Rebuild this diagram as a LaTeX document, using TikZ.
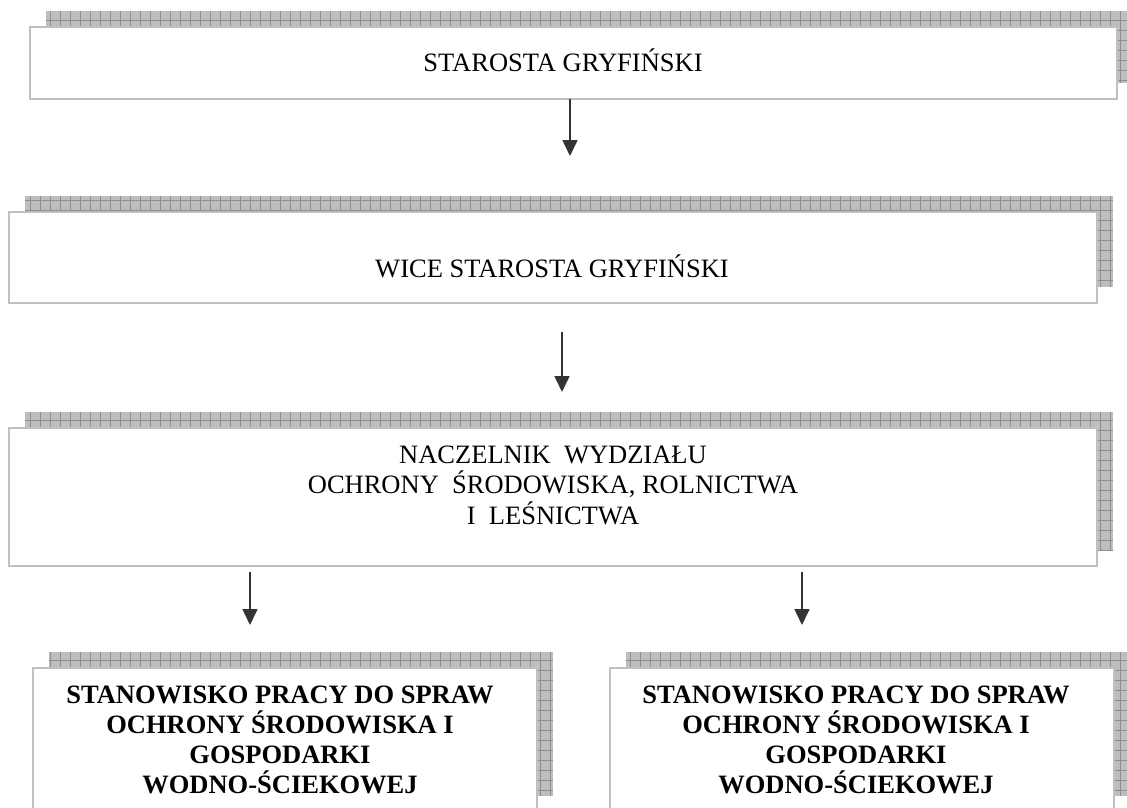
\documentclass[tikz,border=0pt]{standalone}
\usepackage{fontspec}
\setmainfont{Liberation Serif}
\usetikzlibrary{arrows.meta}

\pgfdeclarelayer{bg}
\pgfsetlayers{bg,main}

\definecolor{boxline}{HTML}{C0C0C0}
\definecolor{shadefill}{HTML}{BEBEBE}
\definecolor{shadegrid}{HTML}{8E8E8E}
\definecolor{arrowcol}{HTML}{333333}

\tikzset{
  orgbox/.style={draw=boxline, line width=2pt, fill=white, rectangle, inner sep=0pt, outer sep=0pt},
  boxtext/.style={align=center, anchor=base, inner sep=0pt, font=\fontsize{26.5}{30.5}\selectfont},
  boldtext/.style={align=center, anchor=base, inner sep=0pt, font=\fontsize{26.5}{30}\selectfont\bfseries},
  arr/.style={draw=arrowcol, line width=1.6pt, -{Triangle[width=15pt,length=16pt]}},
  shfill/.style={fill=shadefill},
  shgrid/.style={draw=shadegrid, line width=0.8pt, step=10pt}
}

% shaded shadow behind a box, 16pt up and right
\newcommand{\shadowof}[1]{%
  \fill[shfill] ([shift={(16pt,16pt)}]#1.north west) rectangle ([shift={(16pt,16pt)}]#1.south east);
  \draw[shgrid] ([shift={(16pt,16pt)}]#1.north west) grid ([shift={(16pt,16pt)}]#1.south east);
}

\begin{document}
\begin{tikzpicture}[x=1pt, y=-1pt]
            \useasboundingbox (0,0) rectangle (1127,807);

            % Draw the boxes
            \node[orgbox, minimum width=1087pt, minimum height=72pt] (b1) at (573.5,63) {};
            \node[orgbox, minimum width=1088pt, minimum height=91pt] (b2) at (553,257.5) {};
            \node[orgbox, minimum width=1088pt, minimum height=138pt] (b3) at (553,497) {};
            \node[orgbox, minimum width=504pt, minimum height=144pt] (b4) at (285,740) {};
            \node[orgbox, minimum width=504pt, minimum height=144pt] (b5) at (862,740) {};

            % Draw the shadows
            \begin{pgfonlayer}{bg}
                \shadowof{b1}
                \shadowof{b2}
                \shadowof{b3}
                \shadowof{b4}
                \shadowof{b5}
            \end{pgfonlayer}

            % Draw box texts (base = last line)
            \node[boxtext] (t1) at (563,71) {STAROSTA GRYFIŃSKI};
            \node[boxtext] (t2) at (552,277) {WICE STAROSTA GRYFIŃSKI};
            \node[boxtext] (t3) at (553,524) {NACZELNIK\ \ WYDZIAŁU\\OCHRONY\ \ ŚRODOWISKA, ROLNICTWA\\I\ \ LEŚNICTWA};
            \node[boldtext] (t4) at (280,793) {STANOWISKO PRACY DO SPRAW\\OCHRONY ŚRODOWISKA I\\GOSPODARKI\\WODNO-ŚCIEKOWEJ};
            \node[boldtext] (t5) at (856,793) {STANOWISKO PRACY DO SPRAW\\OCHRONY ŚRODOWISKA I\\GOSPODARKI\\WODNO-ŚCIEKOWEJ};

            % Draw arrows
            \coordinate (a1) at (570,156);
            \coordinate (a2s) at (562,332);
            \coordinate (a2) at (562,392);
            \coordinate (a3s) at (250,572);
            \coordinate (a3) at (250,625);
            \coordinate (a4s) at (802,572);
            \coordinate (a4) at (802,625);
            \draw[arr] (b1.south -| a1) -- (a1);
            \draw[arr] (a2s) -- (a2);
            \draw[arr] (a3s) -- (a3);
            \draw[arr] (a4s) -- (a4);
\end{tikzpicture}
\end{document}
